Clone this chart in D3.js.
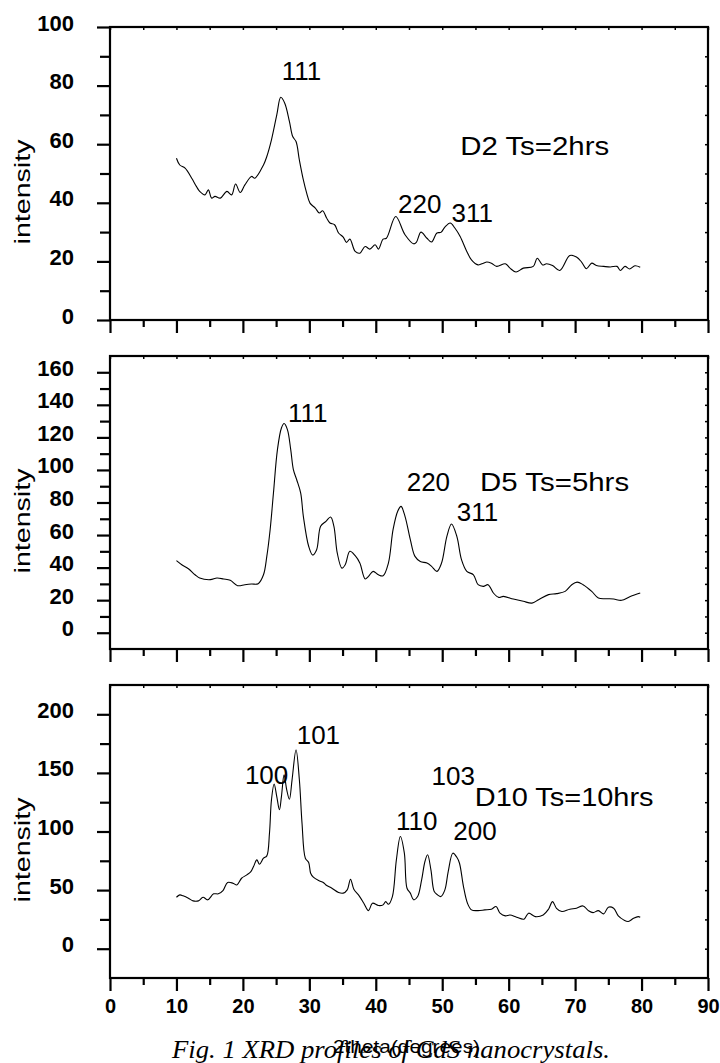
<!DOCTYPE html>
<html>
<head>
<meta charset="utf-8">
<script src="https://cdn.jsdelivr.net/npm/d3@7"></script>
<style>
  body { margin: 0; background: #fff; }
  svg { display: block; }
</style>
</head>
<body>
<svg id="chart" width="720" height="1063"></svg>
<script>
// x axis (2theta, degrees)
var xTicks = [0, 10, 20, 30, 40, 50, 60, 70, 80, 90];
var xMinor = [5, 15, 25, 35, 45, 55, 65, 75, 85];

// D2 Ts=2hrs
var d2Theta = [10.0, 10.5, 11.3, 12.3, 13.0, 13.5, 14.3, 14.8, 15.3, 15.8, 16.6, 17.6, 18.3, 18.9, 19.6, 20.3, 21.3, 21.8, 23.1, 23.6, 24.3, 25.1, 25.7, 26.3, 27.0, 27.5, 28.0, 28.5, 29.1, 29.6, 30.1, 30.9, 31.5, 32.0, 32.6, 33.1, 33.8, 34.4, 35.1, 35.6, 36.1, 36.9, 37.6, 38.4, 39.1, 39.9, 40.4, 41.1, 41.6, 43.0, 44.4, 45.7, 46.1, 46.8, 47.7, 48.4, 49.2, 49.8, 50.4, 51.2, 51.9, 52.7, 53.7, 54.4, 55.4, 56.2, 56.7, 57.4, 58.2, 59.5, 60.2, 61.1, 62.2, 63.7, 64.3, 65.1, 65.7, 66.6, 67.7, 69.2, 70.2, 71.0, 71.7, 72.5, 73.2, 74.3, 75.3, 76.3, 76.8, 77.5, 78.2, 79.0, 79.8];
var d2Int = [55.2, 52.9, 51.8, 48.4, 45.6, 43.9, 42.7, 44.4, 41.6, 42.2, 41.6, 43.9, 42.7, 46.4, 43.5, 46.1, 49.0, 48.4, 52.9, 55.8, 61.5, 70.0, 76.0, 74.0, 67.8, 62.6, 60.9, 54.6, 47.8, 43.3, 39.9, 38.2, 36.5, 37.3, 34.8, 33.1, 32.5, 29.7, 28.3, 26.5, 27.6, 23.4, 22.8, 25.1, 24.2, 25.7, 24.2, 27.6, 27.9, 35.3, 29.1, 26.0, 26.5, 30.0, 27.9, 26.6, 29.7, 29.9, 31.7, 33.1, 31.4, 28.5, 23.4, 20.5, 18.8, 19.4, 19.8, 19.4, 18.3, 19.2, 17.7, 16.4, 17.7, 18.3, 21.1, 18.8, 19.2, 18.6, 16.9, 22.0, 21.5, 19.7, 17.5, 19.4, 18.6, 18.3, 18.1, 18.3, 16.9, 18.3, 17.4, 18.5, 18.0];
var d2Major = [0, 20, 40, 60, 80, 100];
var d2Minor = [10, 30, 50, 70, 90];
var d2Right = [10, 20, 30, 40, 50, 60, 70, 80, 90];
var d2Peaks = ["111", "220", "311", "D2 Ts=2hrs"];
var d2PeakTheta = [25.84, 43.35, 51.4, 52.7];
var d2PeakInt = [81.9, 36.5, 33.6, 56.4];

// D5 Ts=5hrs
var d5Theta = [10.0, 10.8, 11.8, 12.8, 13.5, 15.1, 16.1, 17.1, 18.1, 19.2, 20.3, 21.3, 22.3, 23.1, 23.6, 24.1, 24.6, 25.2, 25.8, 26.2, 26.7, 27.2, 27.6, 28.1, 28.7, 29.1, 29.9, 30.5, 31.1, 31.7, 32.5, 33.2, 33.7, 34.2, 34.9, 35.4, 36.1, 36.9, 37.6, 38.4, 38.9, 39.6, 40.4, 41.1, 41.9, 42.6, 43.3, 43.8, 44.4, 45.2, 45.9, 46.7, 47.7, 48.4, 49.2, 49.9, 50.7, 51.4, 52.2, 52.9, 53.7, 54.7, 55.4, 56.2, 56.9, 57.7, 58.5, 59.2, 60.7, 62.2, 63.5, 64.5, 66.0, 67.2, 68.5, 69.5, 70.3, 71.2, 72.5, 73.5, 74.8, 75.8, 77.0, 78.3, 79.8];
var d5Int = [44.3, 41.8, 39.3, 35.6, 33.6, 32.6, 33.6, 33.0, 32.2, 28.9, 29.5, 29.9, 30.1, 35.6, 46.9, 63.3, 85.8, 112.5, 125.8, 128.5, 124.8, 112.5, 100.2, 94.0, 85.8, 71.5, 53.1, 47.7, 51.0, 65.4, 68.4, 71.1, 65.4, 49.0, 39.7, 41.8, 50.0, 47.3, 42.8, 33.0, 34.6, 37.7, 35.6, 35.0, 42.8, 63.3, 74.6, 77.6, 71.5, 57.2, 46.9, 43.8, 42.8, 40.8, 37.7, 42.8, 59.2, 66.8, 59.2, 44.9, 37.7, 35.6, 29.5, 28.5, 29.5, 24.4, 21.7, 22.3, 20.7, 19.3, 18.2, 20.3, 23.4, 24.0, 25.4, 29.5, 31.1, 29.5, 25.4, 21.3, 20.9, 20.7, 19.9, 22.3, 24.4];
var d5Major = [0, 20, 40, 60, 80, 100, 120, 140, 160];
var d5Minor = [10, 30, 50, 70, 90, 110, 130, 150];
var d5Right = [0, 10, 20, 30, 40, 50, 60, 70, 80, 90, 100, 110, 120, 130, 140, 150, 160];
var d5Peaks = ["111", "220", "311", "D5 Ts=5hrs"];
var d5PeakTheta = [26.8, 44.65, 52.2, 55.7];
var d5PeakInt = [129.3, 87.1, 68.8, 87.1];

// D10 Ts=10hrs
var d10Theta = [10.0, 10.5, 11.0, 11.8, 12.5, 13.3, 14.0, 14.7, 15.6, 16.3, 17.0, 17.7, 18.5, 19.1, 19.8, 20.6, 21.2, 21.6, 22.1, 22.5, 23.1, 23.6, 24.0, 24.3, 24.7, 25.1, 25.5, 25.8, 26.2, 26.6, 27.0, 27.4, 28.0, 28.5, 28.9, 29.4, 29.9, 30.2, 30.6, 31.4, 32.1, 32.5, 33.4, 34.4, 35.1, 35.7, 36.2, 36.7, 37.5, 38.2, 38.9, 39.5, 40.4, 41.1, 41.5, 41.9, 42.5, 43.1, 43.7, 44.3, 44.7, 45.2, 45.7, 46.3, 46.9, 47.4, 47.8, 48.3, 48.8, 49.3, 49.8, 50.4, 50.9, 51.6, 52.2, 52.6, 53.2, 53.8, 54.4, 55.4, 56.4, 57.4, 58.1, 58.7, 59.5, 60.2, 61.2, 62.3, 63.0, 64.0, 65.2, 66.0, 66.6, 67.2, 68.0, 69.2, 70.2, 71.2, 72.0, 72.7, 73.5, 74.3, 75.0, 75.8, 76.5, 77.3, 78.0, 78.8, 79.5, 79.8];
var d10Int = [43.9, 45.9, 45.1, 43.1, 40.8, 40.8, 43.9, 41.7, 46.8, 46.8, 49.6, 56.5, 55.9, 54.4, 60.1, 63.0, 65.8, 70.1, 75.8, 72.1, 77.2, 79.2, 98.5, 127.0, 140.5, 129.8, 118.5, 129.8, 148.3, 135.5, 127.5, 144.1, 169.7, 144.1, 107.1, 77.2, 73.5, 64.4, 61.0, 58.1, 56.5, 54.4, 51.6, 47.9, 47.4, 50.2, 59.3, 50.7, 45.1, 38.8, 32.5, 38.8, 36.8, 37.4, 40.2, 37.9, 44.5, 75.8, 95.7, 81.5, 51.6, 47.4, 41.7, 44.5, 58.7, 74.4, 80.1, 67.3, 48.7, 45.9, 44.5, 50.2, 65.8, 81.5, 78.0, 72.9, 53.0, 38.8, 33.1, 32.5, 33.1, 33.7, 36.0, 30.3, 28.0, 28.8, 26.9, 25.2, 30.3, 27.4, 28.8, 33.7, 40.2, 34.5, 31.7, 33.7, 34.5, 36.5, 32.5, 30.8, 32.5, 29.7, 35.4, 34.5, 28.0, 24.6, 23.2, 26.0, 27.4, 26.9];
var d10Major = [0, 50, 100, 150, 200];
var d10Minor = [25, 75, 125, 175];
var d10Right = [0, 25, 50, 75, 100, 125, 150, 175, 200];
var d10Peaks = ["100", "101", "103", "D10 Ts=10hrs", "110", "200"];
var d10PeakTheta = [20.3, 28.1, 48.4, 54.9, 43.05, 51.67];
var d10PeakInt = [140.4, 174.7, 139.8, 121.5, 101.4, 92.9];

var yLabel = "intensity";
var xLabel = "2theta(degrees)";
var caption = "Fig. 1 XRD profiles of CdS nanocrystals.";

var panels = [
  { theta: d2Theta, ints: d2Int, domain: [0, 100], major: d2Major, minor: d2Minor, right: d2Right,
    peaks: d2Peaks, pTheta: d2PeakTheta, pInt: d2PeakInt, top: 27 },
  { theta: d5Theta, ints: d5Int, domain: [-10, 170], major: d5Major, minor: d5Minor, right: d5Right,
    peaks: d5Peaks, pTheta: d5PeakTheta, pInt: d5PeakInt, top: 356 },
  { theta: d10Theta, ints: d10Int, domain: [-25, 225], major: d10Major, minor: d10Minor, right: d10Right,
    peaks: d10Peaks, pTheta: d10PeakTheta, pInt: d10PeakInt, top: 685 }
];

var svg = d3.select("#chart");
var left = 110, right = 708, h = 293;
var sans = "'Liberation Sans', Arial, Helvetica, sans-serif";

var x = d3.scaleLinear().domain([0, 90]).range([left, right]);

function styleTicks(sel, w) {
  sel.select(".domain").remove();
  sel.selectAll(".tick line").attr("stroke", "#000").attr("stroke-width", w);
}

panels.forEach(function(p, i) {
  var bottom = p.top + h;
  var y = d3.scaleLinear().domain(p.domain).range([bottom, p.top]);
  var g = svg.append("g");
  var last = i === panels.length - 1;

  // bottom ticks, outside
  var bx = g.append("g").attr("transform", "translate(0," + bottom + ")")
    .call(d3.axisBottom(x).tickValues(xTicks).tickSize(13)
      .tickFormat(last ? d3.format("d") : function() { return ""; }));
  styleTicks(bx, 2.2);
  bx.selectAll("text").attr("y", 35).attr("dy", 0)
    .attr("font-family", sans).attr("font-weight", "bold").attr("font-size", 20).attr("fill", "#000");
  styleTicks(g.append("g").attr("transform", "translate(0," + bottom + ")")
    .call(d3.axisBottom(x).tickValues(xMinor).tickSize(7).tickFormat("")), 2.2);

  // top ticks, inside
  styleTicks(g.append("g").attr("transform", "translate(0," + p.top + ")")
    .call(d3.axisBottom(x).tickValues(xTicks.concat(xMinor)).tickSize(3).tickFormat("")), 1.5);

  // left ticks, outside
  var ly = g.append("g").attr("transform", "translate(" + left + ",0)")
    .call(d3.axisLeft(y).tickValues(p.major).tickSize(13).tickPadding(23));
  styleTicks(ly, 2.2);
  ly.selectAll("text").attr("dy", 3)
    .attr("font-family", sans).attr("font-weight", "bold").attr("font-size", 22).attr("fill", "#000");
  styleTicks(g.append("g").attr("transform", "translate(" + left + ",0)")
    .call(d3.axisLeft(y).tickValues(p.minor).tickSize(10).tickFormat("")), 2.2);

  // right ticks, inside
  styleTicks(g.append("g").attr("transform", "translate(" + right + ",0)")
    .call(d3.axisLeft(y).tickValues(p.right).tickSize(3).tickFormat("")), 1.5);

  // frame
  g.append("rect")
    .attr("x", left).attr("y", p.top)
    .attr("width", right - left).attr("height", h)
    .attr("fill", "none").attr("stroke", "#000").attr("stroke-width", 2.2);

  // trace
  var line = d3.line()
    .x(function(d, k) { return x(p.theta[k]); })
    .y(function(d) { return y(d); })
    .curve(d3.curveCatmullRom.alpha(0.5));
  g.append("path")
    .attr("d", line(p.ints))
    .attr("fill", "none").attr("stroke", "#000").attr("stroke-width", 1.1);

  // peak labels
  g.selectAll("text.peak").data(p.peaks).enter()
    .append("text").attr("class", "peak")
    .attr("x", function(d, k) { return x(p.pTheta[k]); })
    .attr("y", function(d, k) { return y(p.pInt[k]); })
    .attr("font-family", sans).attr("font-size", 26).attr("fill", "#000")
    .attr("textLength", function(d) { return d.length > 4 ? d.length * 14.9 : null; })
    .attr("lengthAdjust", "spacingAndGlyphs")
    .text(function(d) { return d; });

  // y label
  g.append("text")
    .attr("transform", "translate(30," + (p.top + 165) + ") rotate(-90) scale(1.3,1)")
    .attr("text-anchor", "middle")
    .attr("font-family", sans).attr("font-size", 22).attr("fill", "#000")
    .text(yLabel);
});

// x label and caption (they overlap, as in the source)
svg.append("text")
  .attr("x", 333).attr("y", 1053)
  .attr("textLength", 147).attr("lengthAdjust", "spacingAndGlyphs")
  .attr("font-family", sans).attr("font-size", 19).attr("fill", "#000")
  .text(xLabel);

svg.append("text")
  .attr("x", 172).attr("y", 1058)
  .attr("textLength", 438).attr("lengthAdjust", "spacingAndGlyphs")
  .attr("font-family", "'Liberation Serif', 'Times New Roman', serif")
  .attr("font-style", "italic").attr("font-size", 25).attr("fill", "#000")
  .text(caption);
</script>
</body>
</html>
